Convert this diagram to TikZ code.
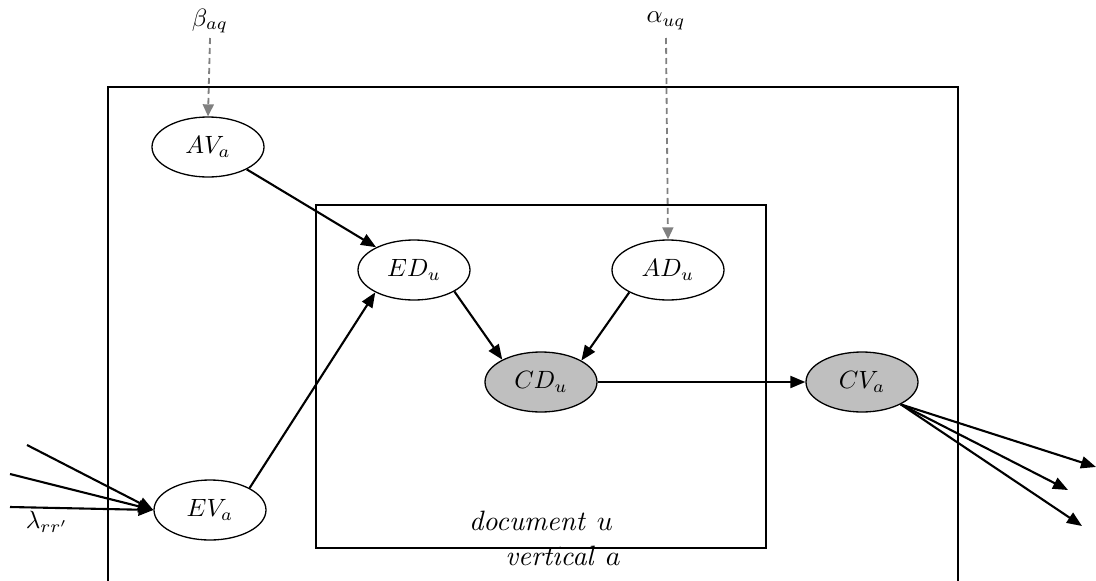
\documentclass[tikz,border=0pt]{standalone}
\usepackage{graphicx}
\usetikzlibrary{shapes.geometric,arrows.meta}
\newcommand{\mtxt}[1]{\scalebox{2.5}{$#1$}}
\newcommand{\ptxt}[1]{\scalebox{2.8}{$#1$}}
\begin{document}
\begin{tikzpicture}[x=1pt,y=-1pt,
  var/.style={ellipse,draw,line width=1.3pt,minimum width=112pt,minimum height=60pt,inner sep=0pt,fill=white},
  obs/.style={var,fill=black!25},
  arr/.style={line width=2.1pt,-{Triangle[length=15pt,width=12pt]}},
  prior/.style={gray,dash pattern=on 6pt off 4pt,line width=1.8pt,-{Triangle[length=12pt,width=11pt]}},
  plate/.style={line width=1.7pt},
  lbl/.style={inner sep=0pt}]
\useasboundingbox (0,0) rectangle (1096,581);
\draw[plate] (108,581) -- (108,87) -- (958,87) -- (958,581);
\draw[plate] (316,205) rectangle (766,548);
\node[var] (AV) at (208,147) {\mtxt{AV_a}};
\node[var] (ED) at (414,270) {\mtxt{ED_u}};
\node[var] (AD) at (668,270) {\mtxt{AD_u}};
\node[obs] (CD) at (541,382) {\mtxt{CD_u}};
\node[obs] (CV) at (862,382) {\mtxt{CV_a}};
\node[var] (EV) at (210,510) {\mtxt{EV_a}};
\node[lbl] (beta) at (210,21) {\mtxt{\beta_{aq}}};
\node[lbl] (alpha) at (666,21) {\mtxt{\alpha_{uq}}};
\node[lbl] (lam) at (47,522) {\mtxt{\lambda_{rr'}}};
\node[lbl] (doc) at (541,521) {\ptxt{\mathit{document}\ u}};
\node[lbl] (vert) at (563,556) {\ptxt{\mathit{vertical}\ a}};
\coordinate (b0) at (210,38);
\coordinate (a0) at (666,38);
\coordinate (i1) at (27,445);
\coordinate (i2) at (10,474);
\coordinate (i3) at (10,507);
\coordinate (o1) at (1096,467);
\coordinate (o2) at (1068,490);
\coordinate (o3) at (1082,526);
\draw[prior] (b0) -- (AV.north);
\draw[prior] (a0) -- (AD.north);
\draw[arr] (AV.-30) -- (ED.149);
\draw[arr] (EV.29) -- (ED.210);
\draw[arr] (ED.-28) -- (CD.150);
\draw[arr] (AD.210) -- (CD.28);
\draw[arr] (CD) -- (CV);
\draw[arr] (i1) -- (EV.west);
\draw[arr] (i2) -- (EV.west);
\draw[arr] (i3) -- (EV.west);
\draw[arr] (CV.-30) -- (o1);
\draw[arr] (CV.-30) -- (o2);
\draw[arr] (CV.-30) -- (o3);
\end{tikzpicture}
\end{document}
